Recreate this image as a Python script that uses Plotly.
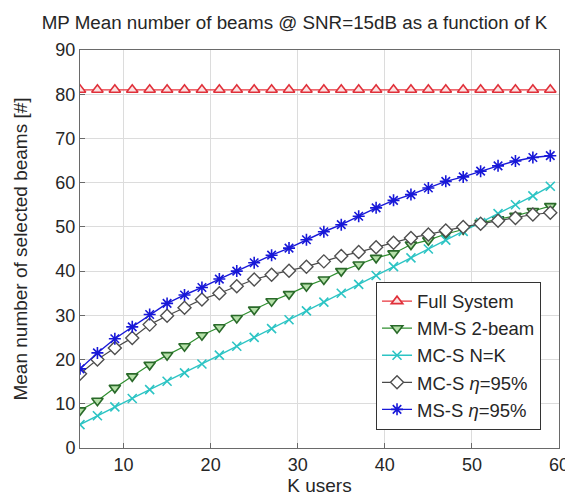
import plotly.graph_objects as go

K = [5, 7, 9, 11, 13, 15, 17, 19, 21, 23, 25, 27, 29, 31, 33, 35, 37, 39, 41, 43, 45, 47, 49, 51, 53, 55, 57, 59]

full_system = [81.0] * 28
mm_s_2beam = [8.5, 10.7, 13.6, 16.2, 18.8, 21.0, 23.0, 25.5, 27.3, 29.4, 31.3, 33.2, 34.8, 36.6,
              38.1, 40.0, 41.5, 43.0, 44.0, 46.0, 47.0, 48.4, 49.4, 50.9, 51.7, 52.5, 53.6, 54.7]
mc_s_nk = [5.3, 7.3, 9.3, 11.2, 13.2, 15.1, 17.0, 19.0, 21.0, 23.0, 25.0, 27.0, 29.0, 31.0,
           33.0, 35.0, 37.0, 39.0, 41.0, 43.0, 45.0, 47.0, 49.0, 51.0, 53.0, 55.0, 57.0, 59.2]
mc_s_eta = [16.8, 20.0, 22.6, 24.9, 27.9, 29.9, 31.7, 33.6, 35.0, 36.6, 38.1, 39.2, 40.1, 41.0,
            42.2, 43.4, 44.3, 45.4, 46.4, 47.5, 48.3, 49.2, 50.0, 50.7, 51.4, 52.0, 52.8, 53.2]
ms_s_eta = [17.9, 21.5, 24.7, 27.4, 30.2, 32.7, 34.6, 36.3, 38.2, 40.0, 41.9, 43.6, 45.2, 47.1,
            48.9, 50.5, 52.4, 54.3, 56.0, 57.3, 58.8, 60.3, 61.3, 62.6, 63.8, 64.9, 65.7, 66.1]

names = ["Full System", "MM-S 2-beam", "MC-S N=K", "MC-S <i>η</i>=95%", "MS-S <i>η</i>=95%"]

FONT = "Liberation Sans, Arial, sans-serif"
TXT = "#262626"
fig = go.Figure()

fig.add_trace(go.Scatter(x=K, y=full_system, name=names[0], mode="lines+markers",
                         line=dict(color="#e8343c", width=1.2),
                         marker=dict(symbol="triangle-up", size=10, color="#fbe3e3",
                                     line=dict(color="#e0303a", width=1.6))))
fig.add_trace(go.Scatter(x=K, y=mm_s_2beam, name=names[1], mode="lines+markers",
                         line=dict(color="#2f8f2f", width=1.2),
                         marker=dict(symbol="triangle-down", size=10, color="#b5e0a8",
                                     line=dict(color="#2a6a2a", width=1.6))))
fig.add_trace(go.Scatter(x=K, y=mc_s_nk, name=names[2], mode="lines+markers",
                         line=dict(color="#2cc4c4", width=1.4),
                         marker=dict(symbol="x-thin-open", size=9,
                                     line=dict(color="#2cbcbc", width=1.6))))
fig.add_trace(go.Scatter(x=K, y=mc_s_eta, name=names[3], mode="lines+markers",
                         line=dict(color="#4a4a4a", width=1.2),
                         marker=dict(symbol="diamond", size=10, color="white",
                                     line=dict(color="#505050", width=1.4))))
fig.add_trace(go.Scatter(x=K, y=ms_s_eta, name=names[4], mode="lines+markers",
                         line=dict(color="#1818d8", width=1.4),
                         marker=dict(symbol="asterisk-open", size=10,
                                     line=dict(color="#1010e8", width=1.6))))

axis_common = dict(showgrid=True, gridcolor="#dcdcdc", gridwidth=1,
                   showline=True, linecolor="#6a6a6a", linewidth=1, mirror=True,
                   ticks="inside", ticklen=5, tickcolor="#6a6a6a",
                   zeroline=False, tickfont=dict(family=FONT, size=18, color=TXT))

fig.update_xaxes(range=[5, 60], tickvals=[10, 20, 30, 40, 50, 60],
                 title=dict(text="K users", font=dict(family=FONT, size=19, color=TXT), standoff=0),
                 **axis_common)
fig.update_yaxes(range=[0, 90], tickvals=[0, 10, 20, 30, 40, 50, 60, 70, 80, 90],
                 title=dict(text="Mean number of selected beams [#]",
                            font=dict(family=FONT, size=19, color=TXT), standoff=22),
                 **axis_common)

fig.update_layout(
    width=573, height=497,
    margin=dict(l=72, r=14, t=42, b=57),
    paper_bgcolor="white", plot_bgcolor="white",
    title=dict(text="MP Mean number of beams @ SNR=15dB as a function of K",
               font=dict(family=FONT, size=18.8, color=TXT),
               x=0.5, xanchor="center", y=0.985, yanchor="top"),
    legend=dict(x=0.618, y=0.418, xanchor="left", yanchor="top",
                bgcolor="white", bordercolor="#333333", borderwidth=1,
                font=dict(family=FONT, size=18.5, color=TXT),
                itemwidth=30, tracegroupgap=0),
    showlegend=True,
)

fig.write_html("out.html")
